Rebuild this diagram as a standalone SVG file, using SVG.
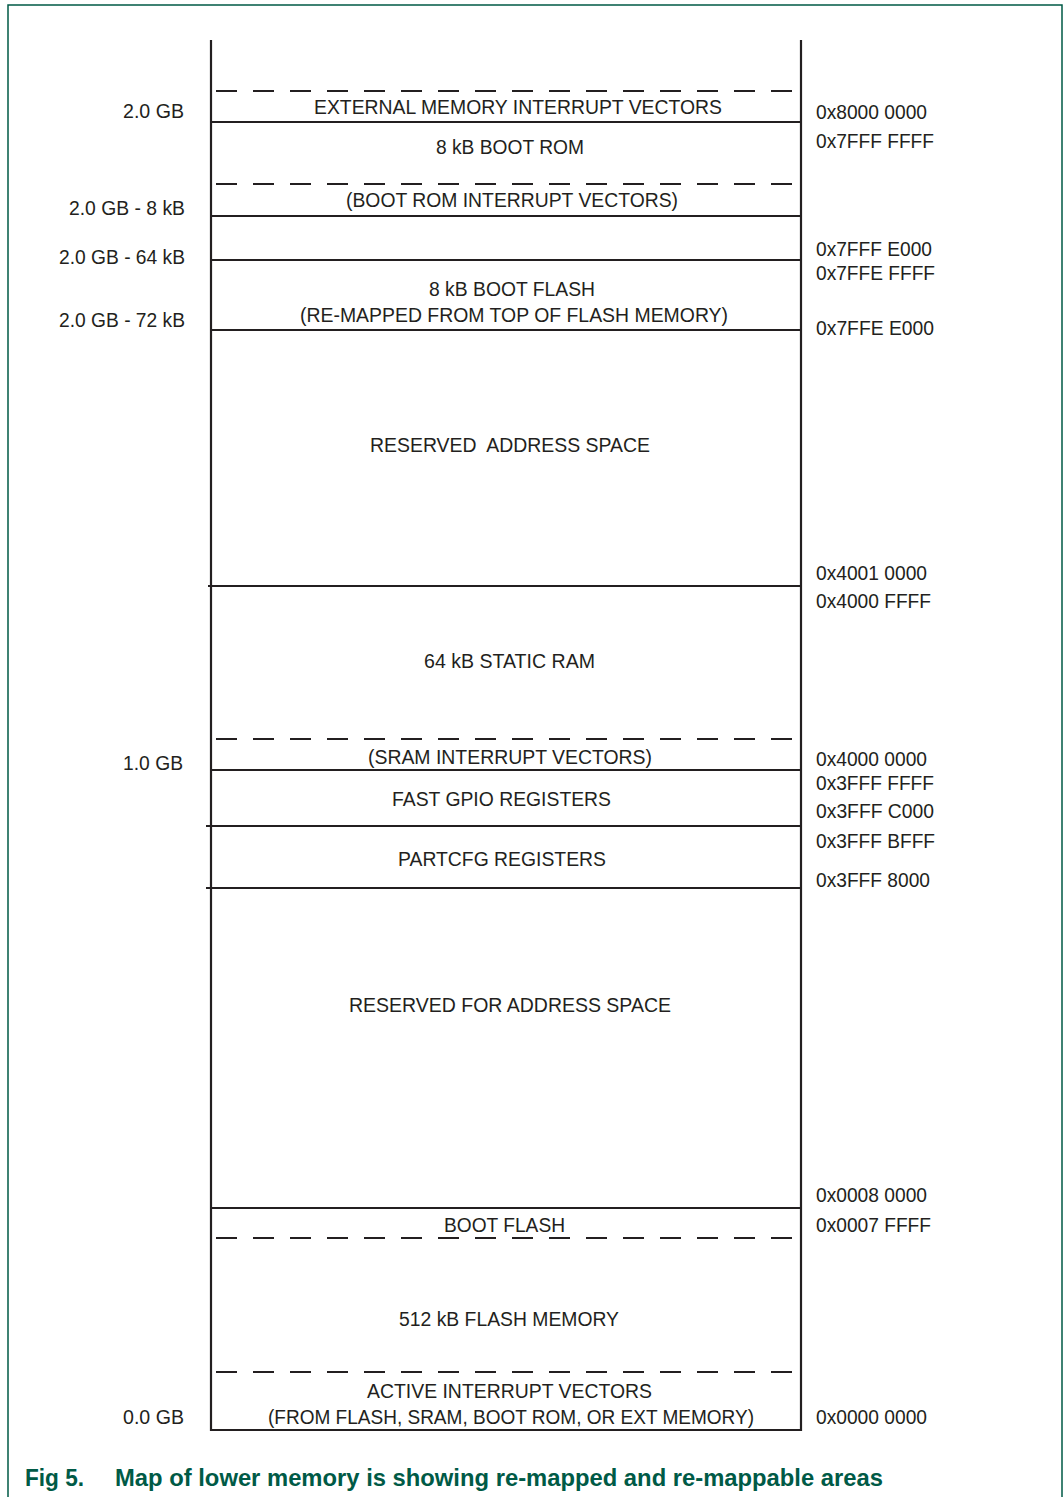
<svg xmlns="http://www.w3.org/2000/svg" width="1063" height="1497" viewBox="0 0 1063 1497">
<style>
.t{font-family:"Liberation Sans",Arial,sans-serif;font-size:20px;fill:#231f20;white-space:pre}
.ln{stroke:#231f20;stroke-width:2.2;fill:none}
.ds{stroke:#231f20;stroke-width:2.2;fill:none;stroke-dasharray:21 16}
.cap{font-family:"Liberation Sans",Arial,sans-serif;font-size:24px;font-weight:bold;fill:#005a46}
</style>
<rect width="1063" height="1497" fill="#ffffff"/>
<path d="M8,1497 V5 H1062 V1497" fill="none" stroke="#005a46" stroke-width="1.5"/>
<g id="connectors">
<line class="ln" x1="211" y1="40" x2="211" y2="1431"/>
<line class="ln" x1="801" y1="40" x2="801" y2="1431"/>
<line class="ds" x1="216" y1="91" x2="799" y2="91"/>
<line class="ln" x1="211" y1="122" x2="801" y2="122"/>
<line class="ds" x1="216" y1="184" x2="799" y2="184"/>
<line class="ln" x1="211" y1="216" x2="801" y2="216"/>
<line class="ln" x1="211" y1="260" x2="801" y2="260"/>
<line class="ln" x1="211" y1="330" x2="801" y2="330"/>
<line class="ln" x1="208" y1="586" x2="801" y2="586"/>
<line class="ds" x1="216" y1="739" x2="799" y2="739"/>
<line class="ln" x1="211" y1="770" x2="801" y2="770"/>
<line class="ln" x1="206" y1="826" x2="801" y2="826"/>
<line class="ln" x1="206" y1="888" x2="801" y2="888"/>
<line class="ln" x1="211" y1="1208" x2="801" y2="1208"/>
<line class="ds" x1="216" y1="1238" x2="799" y2="1238"/>
<line class="ds" x1="216" y1="1372" x2="799" y2="1372"/>
<line class="ln" x1="211" y1="1430" x2="801" y2="1430"/>
</g>
<g id="ext-vectors"><text class="t" x="314" y="114" textLength="408" lengthAdjust="spacingAndGlyphs">EXTERNAL MEMORY INTERRUPT VECTORS</text></g>
<g id="boot-rom"><text class="t" x="436" y="154" textLength="148" lengthAdjust="spacingAndGlyphs">8 kB BOOT ROM</text></g>
<g id="boot-rom-vectors"><text class="t" x="346" y="207" textLength="332" lengthAdjust="spacingAndGlyphs">(BOOT ROM INTERRUPT VECTORS)</text></g>
<g id="boot-flash-top"><text class="t" x="429" y="296" textLength="166" lengthAdjust="spacingAndGlyphs">8 kB BOOT FLASH</text><text class="t" x="300" y="322" textLength="428" lengthAdjust="spacingAndGlyphs">(RE-MAPPED FROM TOP OF FLASH MEMORY)</text></g>
<g id="reserved-1"><text class="t" x="370" y="452" textLength="280" lengthAdjust="spacingAndGlyphs">RESERVED  ADDRESS SPACE</text></g>
<g id="sram"><text class="t" x="424" y="668" textLength="171" lengthAdjust="spacingAndGlyphs">64 kB STATIC RAM</text></g>
<g id="sram-vectors"><text class="t" x="368" y="764" textLength="284" lengthAdjust="spacingAndGlyphs">(SRAM INTERRUPT VECTORS)</text></g>
<g id="fast-gpio"><text class="t" x="392" y="806" textLength="219" lengthAdjust="spacingAndGlyphs">FAST GPIO REGISTERS</text></g>
<g id="partcfg"><text class="t" x="398" y="866" textLength="208" lengthAdjust="spacingAndGlyphs">PARTCFG REGISTERS</text></g>
<g id="reserved-2"><text class="t" x="349" y="1012" textLength="322" lengthAdjust="spacingAndGlyphs">RESERVED FOR ADDRESS SPACE</text></g>
<g id="boot-flash"><text class="t" x="444" y="1232" textLength="121" lengthAdjust="spacingAndGlyphs">BOOT FLASH</text></g>
<g id="flash"><text class="t" x="399" y="1326" textLength="220" lengthAdjust="spacingAndGlyphs">512 kB FLASH MEMORY</text></g>
<g id="active-vectors"><text class="t" x="367" y="1398" textLength="285" lengthAdjust="spacingAndGlyphs">ACTIVE INTERRUPT VECTORS</text><text class="t" x="268" y="1424" textLength="486" lengthAdjust="spacingAndGlyphs">(FROM FLASH, SRAM, BOOT ROM, OR EXT MEMORY)</text></g>
<g id="left-labels">
<text class="t" x="123" y="118" textLength="61" lengthAdjust="spacingAndGlyphs">2.0 GB</text>
<text class="t" x="69" y="215" textLength="116" lengthAdjust="spacingAndGlyphs">2.0 GB - 8 kB</text>
<text class="t" x="59" y="264" textLength="126" lengthAdjust="spacingAndGlyphs">2.0 GB - 64 kB</text>
<text class="t" x="59" y="327" textLength="126" lengthAdjust="spacingAndGlyphs">2.0 GB - 72 kB</text>
<text class="t" x="123" y="770" textLength="60" lengthAdjust="spacingAndGlyphs">1.0 GB</text>
<text class="t" x="123" y="1424" textLength="61" lengthAdjust="spacingAndGlyphs">0.0 GB</text>
</g>
<g id="right-labels">
<text class="t" x="816" y="119" textLength="111" lengthAdjust="spacingAndGlyphs">0x8000 0000</text>
<text class="t" x="816" y="148" textLength="118" lengthAdjust="spacingAndGlyphs">0x7FFF FFFF</text>
<text class="t" x="816" y="256" textLength="116" lengthAdjust="spacingAndGlyphs">0x7FFF E000</text>
<text class="t" x="816" y="280" textLength="119" lengthAdjust="spacingAndGlyphs">0x7FFE FFFF</text>
<text class="t" x="816" y="335" textLength="118" lengthAdjust="spacingAndGlyphs">0x7FFE E000</text>
<text class="t" x="816" y="580" textLength="111" lengthAdjust="spacingAndGlyphs">0x4001 0000</text>
<text class="t" x="816" y="608" textLength="115" lengthAdjust="spacingAndGlyphs">0x4000 FFFF</text>
<text class="t" x="816" y="766" textLength="111" lengthAdjust="spacingAndGlyphs">0x4000 0000</text>
<text class="t" x="816" y="790" textLength="118" lengthAdjust="spacingAndGlyphs">0x3FFF FFFF</text>
<text class="t" x="816" y="818" textLength="118" lengthAdjust="spacingAndGlyphs">0x3FFF C000</text>
<text class="t" x="816" y="848" textLength="119" lengthAdjust="spacingAndGlyphs">0x3FFF BFFF</text>
<text class="t" x="816" y="887" textLength="114" lengthAdjust="spacingAndGlyphs">0x3FFF 8000</text>
<text class="t" x="816" y="1202" textLength="111" lengthAdjust="spacingAndGlyphs">0x0008 0000</text>
<text class="t" x="816" y="1232" textLength="115" lengthAdjust="spacingAndGlyphs">0x0007 FFFF</text>
<text class="t" x="816" y="1424" textLength="111" lengthAdjust="spacingAndGlyphs">0x0000 0000</text>
</g>
<g id="caption">
<text class="cap" x="25" y="1486" textLength="59" lengthAdjust="spacingAndGlyphs">Fig 5.</text>
<text class="cap" x="115" y="1486" textLength="768" lengthAdjust="spacingAndGlyphs">Map of lower memory is showing re-mapped and re-mappable areas</text>
</g>
</svg>
